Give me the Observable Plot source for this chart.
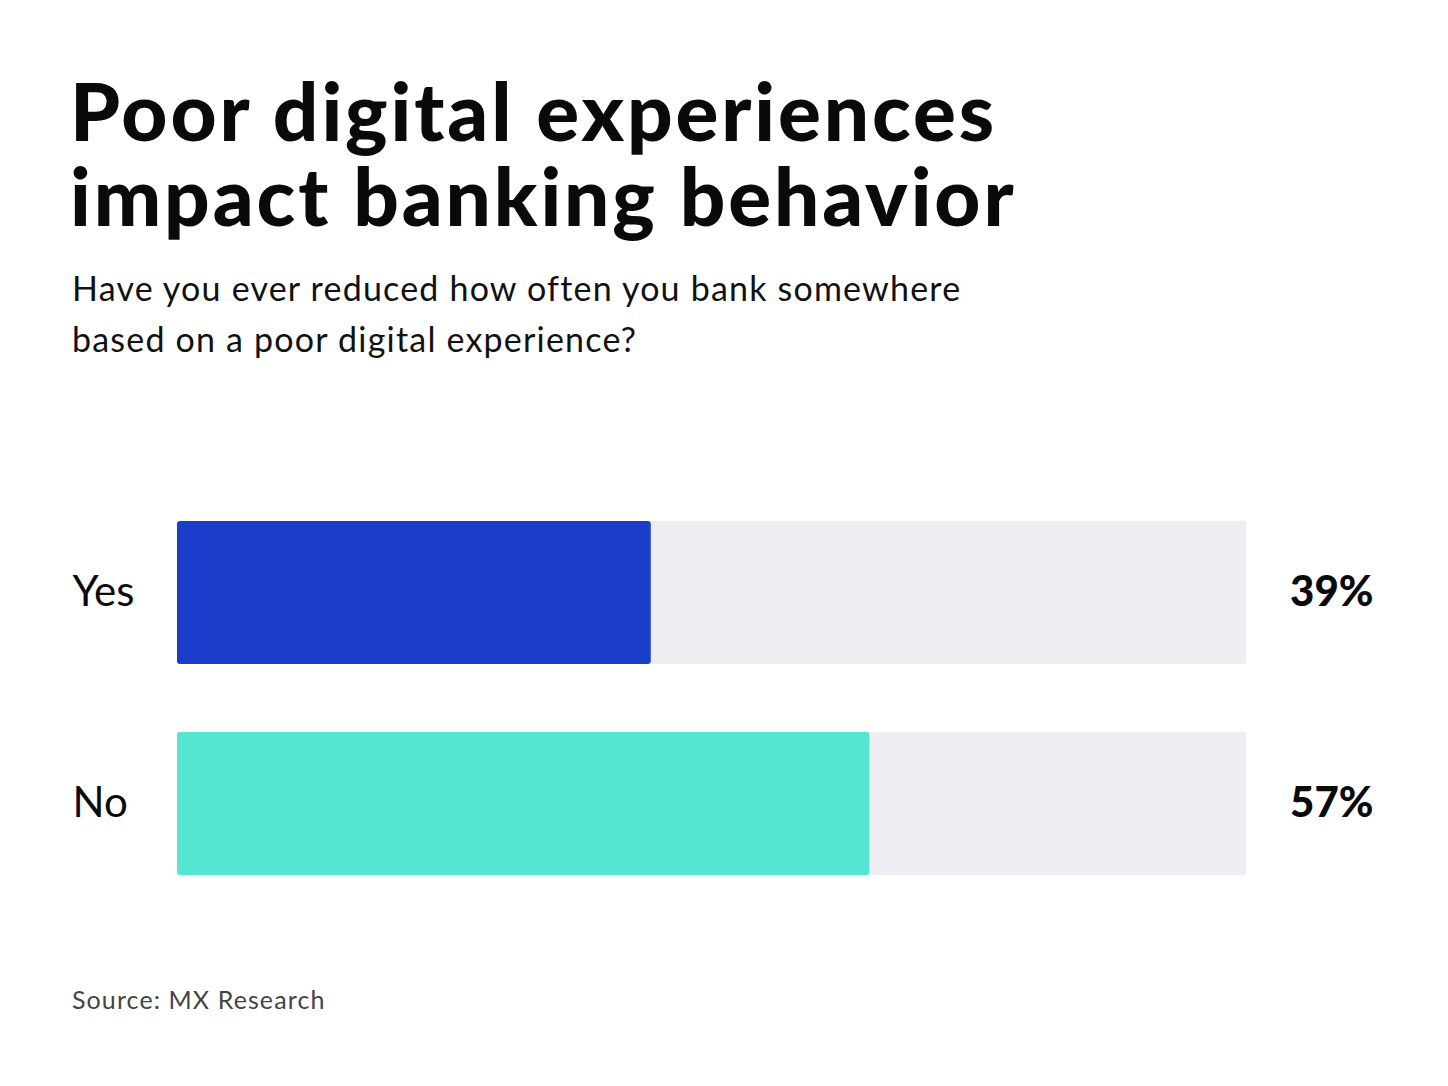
<!DOCTYPE html>
<html>
<head>
<meta charset="utf-8">
<script src="https://cdn.jsdelivr.net/npm/d3@7"></script>
<script src="https://cdn.jsdelivr.net/npm/@observablehq/plot@0.6"></script>
<style>
  html, body { margin: 0; padding: 0; background: #ffffff; }
  body { width: 1448px; height: 1086px; position: relative; overflow: hidden; font-family: Lato, "Noto Sans", sans-serif; color: #0a0a0a; }
  .title-line { position: absolute; left: 70px; margin: 0; font-size: 80px; font-weight: 900; line-height: 80px; letter-spacing: 2.9px; white-space: nowrap; }
  #title1 { top: 70px; }
  #title2 { top: 155px; }
  #subtitle { position: absolute; left: 72px; top: 262px; margin: 0; font-size: 34px; font-weight: 400; line-height: 51px; letter-spacing: 1.2px; color: #111; }
  #chart { position: absolute; left: 0; top: 480px; }
  #source { position: absolute; left: 72px; top: 984px; margin: 0; font-size: 25px; letter-spacing: 1.1px; color: #444; }
</style>
</head>
<body>
<h1 class="title-line" id="title1">Poor digital experiences</h1>
<h1 class="title-line" id="title2">impact banking behavior</h1>
<p id="subtitle">Have you ever reduced how often you bank somewhere<br>based on a poor digital experience?</p>
<div id="chart"></div>
<p id="source">Source: MX Research</p>
<script>
// Survey answers and their shares (%)
const answers = ["Yes", "No"];
const shares = [39, 57];
const answerColors = ["#1a3ecb", "#54e5d3"];

// Full length of the grey track, in percentage points
const trackMax = 88;

const rows = answers.map((answer, i) => ({answer, share: shares[i], color: answerColors[i]}));

const chart = Plot.plot({
  width: 1448,
  height: 440,
  style: {background: "transparent", fontFamily: "Lato, 'Noto Sans', sans-serif"},
  x: {domain: [0, trackMax], range: [177, 1246], axis: null},
  y: {domain: answers, range: [41, 396], paddingInner: 0.32, paddingOuter: 0, axis: null},
  marks: [
    // grey track behind each bar
    Plot.barX(rows, {y: "answer", x1: 0, x2: trackMax, fill: "#ededf2", rx: 3}),
    // answer share
    Plot.barX(rows, {y: "answer", x1: 0, x2: "share", fill: "color", rx: 3}),
    // answer labels on the left
    Plot.text(rows, {y: "answer", x: 0, dx: -105, text: "answer", textAnchor: "start", fontSize: 42, fill: "#0a0a0a", letterSpacing: -0.5}),
    // value labels on the right
    Plot.text(rows, {y: "answer", x: trackMax, dx: 127, text: d => `${d.share}%`, textAnchor: "end", fontSize: 42, fontWeight: 900, fill: "#0a0a0a", letterSpacing: 0.5})
  ]
});

document.getElementById("chart").appendChild(chart);
</script>
</body>
</html>
